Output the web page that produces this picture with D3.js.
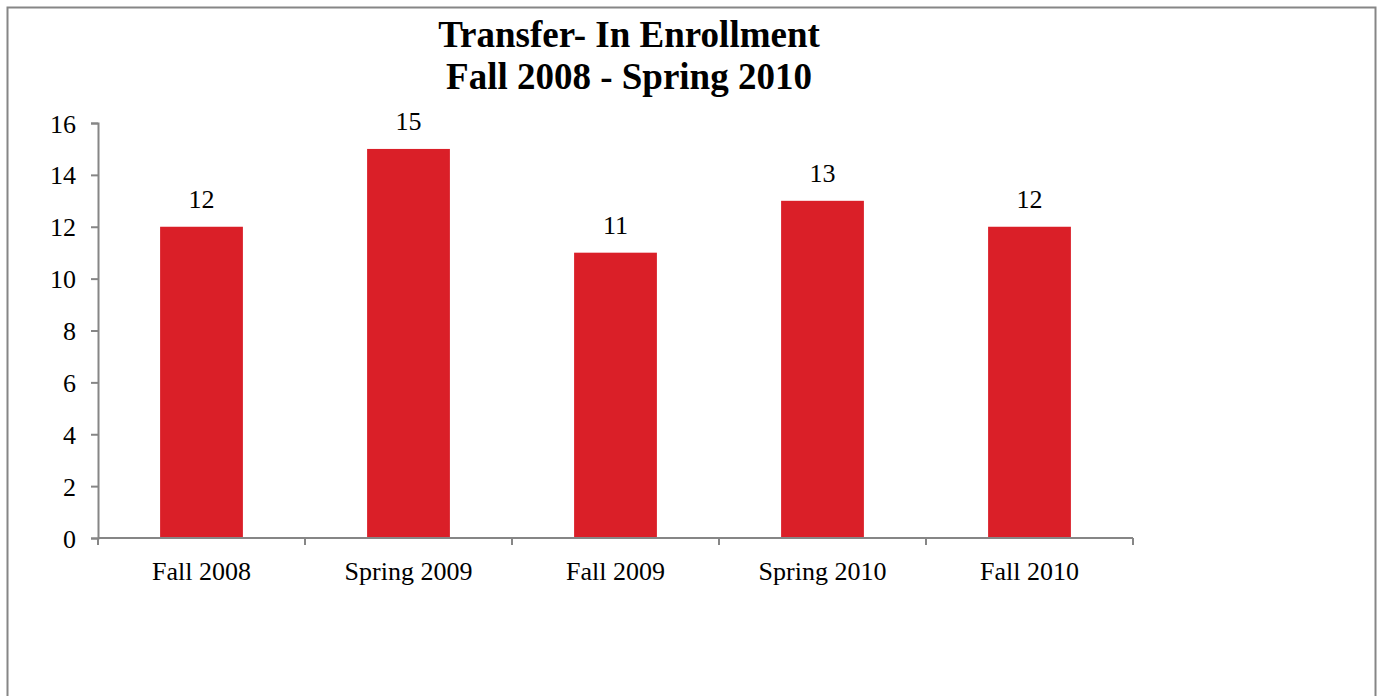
<!DOCTYPE html>
<html>
<head>
<meta charset="utf-8">
<script src="https://cdn.jsdelivr.net/npm/d3@7"></script>
<style>
  body { margin: 0; background: #fff; }
  svg { display: block; }
  text { font-family: "Liberation Serif", "Times New Roman", serif; fill: #000; }
</style>
</head>
<body>
<svg width="1377" height="696"></svg>
<script>
var categories = ["Fall 2008", "Spring 2009", "Fall 2009", "Spring 2010", "Fall 2010"];
var values = [12, 15, 11, 13, 12];
var yTicks = [0, 2, 4, 6, 8, 10, 12, 14, 16];
var titleLines = ["Transfer- In Enrollment", "Fall 2008 - Spring 2010"];

var svg = d3.select("svg");

// chart frame (bottom edge runs off the page)
svg.append("rect")
    .attr("x", 7.5).attr("y", 7.5)
    .attr("width", 1368).attr("height", 720)
    .attr("fill", "none")
    .attr("stroke", "#868686")
    .attr("stroke-width", 2);

var plotLeft = 98, plotRight = 1133, plotTop = 123, plotBottom = 538;

var x = d3.scaleBand()
    .domain(categories)
    .range([plotLeft, plotRight])
    .paddingInner(0.6)
    .paddingOuter(0.3);

var y = d3.scaleLinear()
    .domain([0, 16])
    .range([plotBottom, plotTop]);

// title
svg.append("text")
    .attr("text-anchor", "middle")
    .style("font-weight", "bold")
    .style("font-size", "37px")
    .selectAll("tspan")
    .data(titleLines)
    .enter().append("tspan")
    .attr("x", 629)
    .attr("y", function(d, i) { return 47 + i * 42; })
    .text(function(d) { return d; });

// bars
svg.append("g")
    .selectAll("rect")
    .data(values)
    .enter().append("rect")
    .attr("x", function(d, i) { return x(categories[i]); })
    .attr("y", function(d) { return y(d); })
    .attr("width", x.bandwidth())
    .attr("height", function(d) { return plotBottom - y(d); })
    .attr("fill", "#DA1F28");

// value labels
svg.append("g")
    .selectAll("text")
    .data(values)
    .enter().append("text")
    .attr("x", function(d, i) { return x(categories[i]) + x.bandwidth() / 2; })
    .attr("y", function(d) { return y(d) - 19; })
    .attr("text-anchor", "middle")
    .style("font-size", "26px")
    .text(function(d) { return d; });

// y axis
var yAxis = svg.append("g")
    .attr("transform", "translate(" + plotLeft + ",0)")
    .call(d3.axisLeft(y).tickValues(yTicks).tickSize(7).tickPadding(15));
yAxis.selectAll("text").style("font-size", "26px").attr("dy", "0.35em");

// x axis: ticks sit on the category boundaries
var step = (plotRight - plotLeft) / categories.length;
var xAxis = svg.append("g")
    .attr("transform", "translate(0," + plotBottom + ")");
xAxis.append("line")
    .attr("x1", plotLeft).attr("x2", plotRight)
    .attr("y1", 0).attr("y2", 0);
xAxis.selectAll(".tick")
    .data(d3.range(categories.length + 1))
    .enter().append("line")
    .attr("class", "tick")
    .attr("x1", function(i) { return plotLeft + i * step; })
    .attr("x2", function(i) { return plotLeft + i * step; })
    .attr("y1", 0).attr("y2", 7);
xAxis.selectAll("text")
    .data(categories)
    .enter().append("text")
    .attr("x", function(d) { return x(d) + x.bandwidth() / 2; })
    .attr("y", 42)
    .attr("text-anchor", "middle")
    .style("font-size", "26px")
    .text(function(d) { return d; });

svg.selectAll("g line, g path.domain")
    .attr("stroke", "#868686")
    .attr("stroke-width", 2)
    .attr("fill", "none");
</script>
</body>
</html>
